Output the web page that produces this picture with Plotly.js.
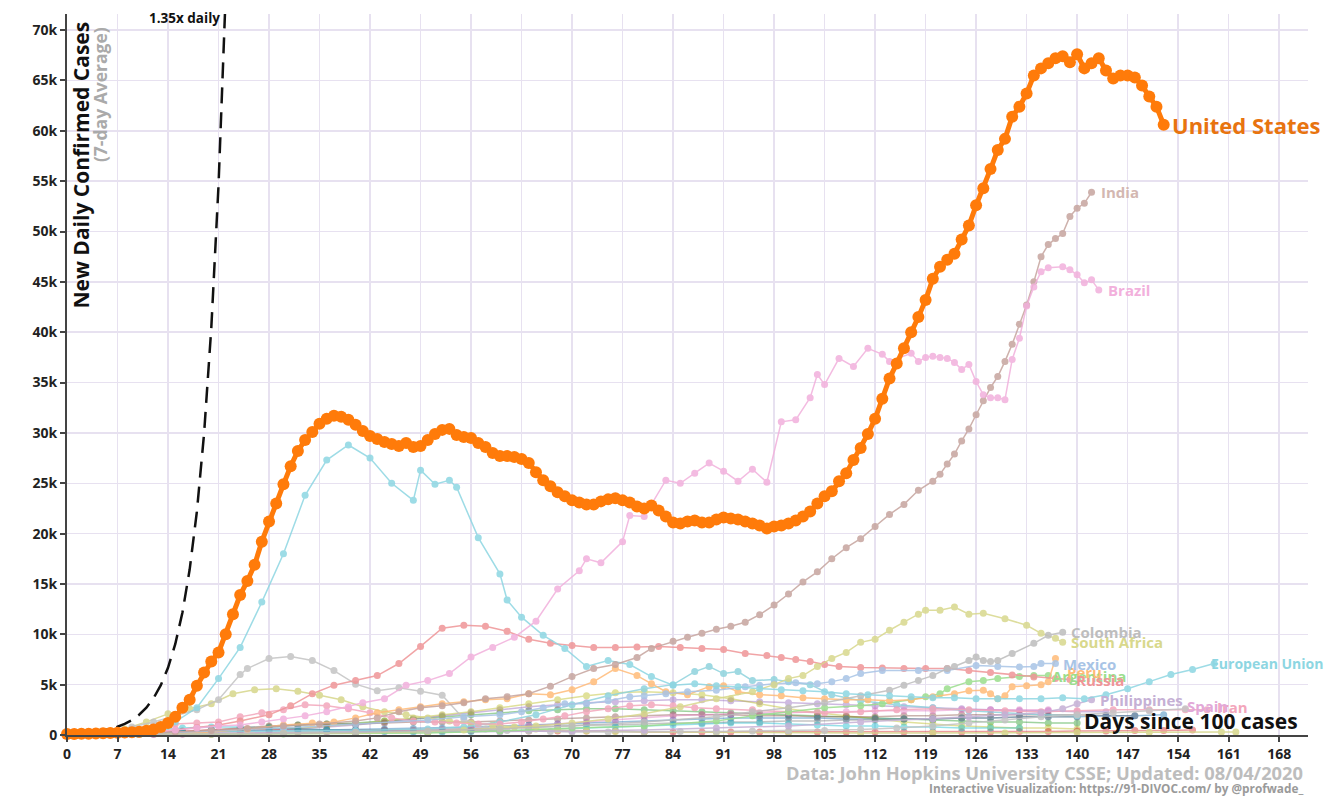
<!DOCTYPE html>
<html><head><meta charset="utf-8">
<script src="https://cdn.plot.ly/plotly-3.0.1.min.js"></script>
<style>html,body{margin:0;padding:0;background:#fff;} #chart{width:1330px;height:796px;}</style>
</head><body><div id="chart"></div>
<script>
// values in thousands of new daily cases (7-day average), x = days since 100 cases
const usValues = [
0.1,0.1,0.12,0.13,0.15,0.17,0.2,0.22,0.25,0.28,
0.33,0.42,0.55,0.8,1.2,1.8,2.7,3.5,4.9,6.2,
7.3,8.2,10.0,12.0,13.9,15.3,16.9,19.2,21.2,23.0,
24.9,26.7,28.2,29.3,30.1,30.9,31.4,31.7,31.6,31.3,
30.8,30.2,29.7,29.4,29.1,28.9,28.7,29.0,28.6,28.7,
29.3,29.9,30.3,30.4,29.8,29.6,29.5,29.0,28.6,28.0,
27.7,27.7,27.6,27.4,27.0,26.1,25.3,24.7,24.1,23.7,
23.3,23.1,22.9,22.9,23.2,23.4,23.5,23.3,23.1,22.7,
22.5,22.8,22.3,21.7,21.1,21.0,21.2,21.3,21.1,21.1,
21.4,21.6,21.5,21.4,21.2,21.0,20.8,20.5,20.7,20.8,
21.0,21.3,21.7,22.2,23.0,23.7,24.2,25.2,26.0,27.3,
28.5,29.9,31.4,33.4,35.4,36.9,38.4,40.0,41.5,43.2,
45.3,46.5,47.2,47.8,49.2,50.6,52.6,54.3,56.2,58.1,
59.2,61.4,62.4,63.7,65.5,66.2,66.7,67.2,67.4,66.8,
67.6,66.2,66.7,67.2,66.0,65.2,65.5,65.5,65.3,64.5,
63.4,62.4,60.6];

const euDays = [0,3,6,9,12,15,18,21,24,27,30,33,36,39,42,45,48,49,51,53,54,57,60,61,63,66,69,72,75,78,81,84,87,90,93,96,99,102,105,108,111,114,117,120,123,126,129,132,135,138,141,144,147,150,153,156,159];
const euValues = [0.02,0.05,0.15,0.3,0.6,1.3,2.7,5.6,8.7,13.2,18.0,23.8,27.3,28.8,27.5,25.0,23.3,26.3,24.9,25.3,24.6,19.6,16.0,13.4,11.7,9.9,8.6,6.8,7.4,7.0,5.8,4.95,5.1,4.9,4.8,4.6,4.5,4.4,4.3,4.1,4.0,3.9,3.8,3.7,3.7,3.6,3.6,3.6,3.6,3.7,3.6,4.0,4.6,5.3,6.0,6.5,7.1];

const brazilDays = [0,3,6,9,12,15,18,21,24,27,30,33,36,39,41,44,47,50,53,56,59,62,65,68,71,72,74,77,78,80,83,85,87,89,91,93,95,97,99,101,103,104,105,107,109,111,113,114,117,118,119,120,121,122,123,124,125,126,127,128,129,130,131,132,133,134,135,136,138,139,140,141,142,143];
const brazilValues = [0.02,0.05,0.1,0.2,0.3,0.5,0.7,0.9,1.0,1.3,1.6,1.9,2.3,2.8,3.2,3.6,4.95,5.4,6.1,7.75,8.7,9.7,11.3,14.5,16.3,17.5,17.1,19.2,21.8,21.7,25.3,25.0,26.0,27.0,26.2,25.2,26.4,25.1,31.1,31.3,33.5,35.8,34.8,37.4,36.6,38.4,37.8,37.1,37.9,37.1,37.5,37.6,37.5,37.4,37.0,36.3,36.8,35.1,33.8,33.5,33.5,33.3,37.3,39.4,42.6,44.5,46.0,46.4,46.5,46.2,45.7,44.9,45.2,44.2];

const indiaDays = [0,5,10,15,20,25,30,35,40,43,46,49,52,55,58,61,64,67,70,73,76,79,81,84,86,88,90,92,94,96,98,100,102,104,106,108,110,112,114,116,118,120,121,122,123,124,125,126,127,128,129,130,131,132,133,134,135,136,137,138,139,140,141,142];
const indiaValues = [0.01,0.05,0.1,0.3,0.45,0.65,0.9,1.1,1.4,1.7,2.3,2.7,2.9,3.2,3.6,3.8,4.1,4.85,5.8,6.6,7.0,7.7,8.6,9.3,9.7,10.1,10.5,10.8,11.2,11.95,12.9,14.0,15.2,16.2,17.5,18.6,19.5,20.7,21.9,22.9,24.3,25.2,25.9,26.9,27.9,29.2,30.4,31.8,33.2,34.5,35.6,37.1,38.8,40.8,42.7,45.0,47.5,48.7,49.3,49.8,51.5,52.3,52.8,53.9];

const russiaDays = [0,3,6,9,12,15,18,21,24,28,31,34,37,40,43,46,49,52,55,58,61,64,67,70,73,76,79,82,85,88,91,94,97,99,101,103,105,107,110,113,116,119,122,125,128,131,134,137,139];
const russiaValues = [0.03,0.05,0.1,0.2,0.3,0.5,0.75,1.0,1.4,2.0,2.9,4.1,4.95,5.4,5.9,7.1,8.8,10.6,10.9,10.8,10.3,9.5,9.1,8.9,8.7,8.7,8.75,8.8,8.7,8.6,8.5,8.1,7.9,7.7,7.5,7.3,7.0,6.8,6.7,6.65,6.6,6.6,6.6,6.4,6.2,5.95,5.75,5.6,5.5];

const spainDays = [0,3,6,9,12,15,18,21,24,25,28,31,34,37,40,43,46,49,52,55,58,61,64,67,70,75,80,85,90,95,100,105,110,115,120,125,130,135,140,145,150,155];
const spainValues = [0.05,0.15,0.4,0.8,1.3,1.9,2.5,3.5,6.0,6.6,7.6,7.8,7.4,6.4,5.05,4.4,4.7,4.35,3.95,1.6,0.6,0.45,0.4,0.35,0.3,0.3,0.35,0.35,0.35,0.4,0.4,0.45,0.55,0.7,0.9,1.2,1.5,1.8,2.0,2.2,2.4,2.6];

const italyDays = [0,3,6,8,11,14,17,20,23,26,29,32,35,38,41,44,47,50,53,56,59,62,65,68,72,76,80,90,100,110,120,130,140,150,160,162];
const italyValues = [0.03,0.15,0.35,0.6,1.3,2.1,2.6,3.1,4.1,4.5,4.6,4.35,3.95,3.5,2.8,2.3,2.0,1.7,1.4,1.2,1.0,0.8,0.6,0.5,0.4,0.35,0.3,0.25,0.25,0.2,0.2,0.2,0.25,0.27,0.3,0.3];

const southAfricaDays = [0,10,20,30,40,50,55,60,65,70,75,80,85,90,95,98,100,102,104,106,108,110,112,114,116,118,119,121,123,125,127,130,133,135,137,138];
const southAfricaValues = [0.02,0.06,0.08,0.15,0.2,0.35,0.5,0.7,0.9,1.2,1.6,2.1,2.8,3.6,4.3,5.0,5.6,5.9,6.8,7.6,8.2,9.2,9.5,10.4,11.2,12.0,12.4,12.4,12.7,12.0,12.1,11.55,10.9,10.1,9.6,9.2];

const colombiaDays = [0,10,20,30,40,50,60,70,80,90,95,100,105,110,114,116,118,120,122,123,125,126,127,128,129,131,134,136,138];
const colombiaValues = [0.02,0.05,0.1,0.15,0.25,0.4,0.6,0.9,1.3,1.8,2.3,2.7,3.2,3.9,4.45,4.95,5.4,5.9,6.6,6.8,7.4,7.75,7.4,7.3,7.4,8.1,9.1,9.9,10.2];

const mexicoDays = [0,10,20,30,40,50,55,60,63,66,69,72,75,78,80,83,86,90,94,96,98,101,104,106,108,110,113,118,122,126,129,132,134,135,137];
const mexicoValues = [0.02,0.1,0.4,0.7,1.1,1.5,1.8,2.0,2.3,2.7,3.1,3.1,3.4,3.8,3.9,4.1,4.3,4.45,4.8,4.95,5.1,5.2,5.1,5.3,5.6,6.1,6.4,6.4,6.4,6.9,6.8,6.75,6.8,7.1,7.1];

const peruDays = [0,5,10,15,20,25,30,34,37,40,43,46,49,52,55,58,61,64,67,70,73,76,79,81,83,86,89,91,93,96,99,102,105,108,111,114,117,120,123,125,127,128,129,130,131,133,135,136,137];
const peruValues = [0.02,0.05,0.08,0.15,0.3,0.6,1.0,1.2,1.3,1.7,2.2,2.5,2.8,3.1,3.3,3.5,3.6,4.1,4.0,4.5,5.3,6.6,5.9,5.1,4.3,4.0,4.8,4.9,4.3,4.0,3.9,3.7,3.6,3.5,3.5,3.4,3.5,3.8,4.1,4.4,4.45,4.1,3.6,3.9,4.8,4.9,5.0,5.3,7.6];

const argentinaDays = [0,10,20,30,40,50,60,70,80,90,95,100,105,110,113,117,119,121,122,125,127,129,132,134,136];
const argentinaValues = [0.01,0.05,0.08,0.1,0.15,0.2,0.4,0.7,0.9,1.4,1.9,2.3,2.7,2.9,3.1,3.5,3.8,4.1,4.6,5.3,5.4,5.6,5.8,5.9,5.9];

const philippinesDays = [0,10,20,30,40,50,60,70,80,90,100,110,120,125,130,135,138,140,142];
const philippinesValues = [0.02,0.1,0.2,0.2,0.25,0.25,0.3,0.4,0.5,0.7,0.9,1.3,1.6,1.8,2.0,2.2,2.6,3.1,3.5];

const iranDays = [0,3,6,9,12,15,18,21,24,27,30,33,36,39,42,45,48,51,54,57,60,63,66,69,72,75,78,81,84,87,90,95,100,105,110,115,120,125,130,135,140,145,150,155,158];
const iranValues = [0.03,0.1,0.3,0.6,0.9,1.1,1.2,1.3,1.8,2.2,2.5,3.0,2.9,2.6,2.2,1.7,1.4,1.3,1.2,1.1,1.1,1.3,1.6,1.9,2.3,2.6,2.9,3.0,2.9,2.7,2.6,2.5,2.3,2.2,2.3,2.5,2.6,2.5,2.4,2.3,2.4,2.5,2.5,2.5,2.5];

const chileDays = [0,10,20,30,40,50,55,60,65,70,75,80,84,87,89,91,93,95,98,100,103,106,110,115,120,125,130,135,140];
const chileValues = [0.03,0.2,0.35,0.4,0.45,0.6,0.8,1.3,2.0,3.0,3.9,4.6,5.0,6.3,6.8,6.1,6.3,5.4,5.5,5.3,5.0,4.0,3.4,3.0,2.7,2.4,2.2,2.0,1.9];

// background countries, one value every 4 days starting at day 0
const bgGreenValues = [0.02,0.05,0.1,0.15,0.25,0.4,0.6,0.8,1.0,1.1,1.2,1.4,1.6,1.8,2.0,2.2,2.4,2.5,2.6,2.6,2.5,2.4,2.3,2.2,2.1,2.0,1.9,1.8,1.7,1.6,1.5,1.4,1.3,1.3,1.2,1.2];
const bgPurpleValues = [0.01,0.02,0.05,0.1,0.2,0.3,0.4,0.5,0.6,0.8,1.0,1.3,1.6,1.9,2.2,2.5,2.8,3.0,3.2,3.3,3.4,3.5,3.5,3.4,3.3,3.2,3.1,3.0,2.9,2.8,2.7,2.6,2.5,2.4,2.4,2.3,2.3];
const bgOliveValues = [0.02,0.05,0.1,0.2,0.3,0.4,0.5,0.6,0.7,0.9,1.1,1.4,1.7,2.0,2.3,2.7,3.1,3.5,3.9,4.2,4.3,4.2,4.0,3.6,3.1,2.6,2.2,1.9,1.6,1.3,1.1,0.9,0.8,0.7,0.7,0.6];
const bgRedValues = [0.05,0.1,0.2,0.3,0.4,0.5,0.6,0.6,0.6,0.5,0.5,0.5,0.4,0.4,0.4,0.4,0.4,0.4,0.4,0.4,0.3,0.3,0.3,0.3,0.3,0.3,0.3,0.3,0.3,0.3,0.3,0.3,0.3,0.35,0.35,0.4,0.4,0.45,0.45,0.5];
const bgBrownValues = [0.02,0.05,0.1,0.2,0.3,0.5,0.7,0.9,1.0,1.1,1.1,1.2,1.3,1.3,1.3,1.4,1.5,1.6,1.7,1.8,1.9,2.0,2.0,2.0,1.9,1.9,1.8,1.8,1.8,1.9,1.9,2.0,2.0,2.0,2.0,2.0,1.9,1.9];
const bgBlueValues = [0.02,0.05,0.1,0.2,0.3,0.35,0.4,0.4,0.45,0.5,0.55,0.6,0.65,0.7,0.8,0.9,1.0,1.1,1.2,1.3,1.4,1.5,1.6,1.7,1.7,1.7,1.7,1.6,1.6,1.6,1.6,1.7,1.7,1.8,1.8,1.8,1.9,1.9,2.0];
const bgGreyValues = [0.01,0.02,0.05,0.08,0.1,0.15,0.2,0.25,0.3,0.35,0.4,0.45,0.5,0.55,0.6,0.7,0.8,0.9,1.0,1.0,1.1,1.2,1.2,1.3,1.3,1.4,1.4,1.5,1.5,1.6,1.6,1.7,1.7,1.8,1.8,1.8];
const bgPinkValues = [0.01,0.02,0.03,0.05,0.08,0.1,0.12,0.15,0.2,0.25,0.3,0.35,0.4,0.5,0.6,0.7,0.9,1.1,1.3,1.5,1.7,1.9,2.0,2.1,2.2,2.2,2.3,2.3,2.4,2.4,2.4,2.5,2.5,2.5,2.5];
const bgTealValues = [0.02,0.1,0.3,0.5,0.7,0.8,0.8,0.7,0.6,0.5,0.4,0.35,0.3,0.3,0.35,0.4,0.5,0.6,0.7,0.8,0.9,1.0,1.1,1.2,1.2,1.1,1.0,0.9,0.9,0.8,0.8,0.7,0.7,0.7];

// 1.35x daily guide line
const guideValues = [0.1,0.135,0.182,0.246,0.332,0.448,0.605,0.817,1.103,1.489,2.011,2.714,3.664,4.947,6.678,9.016,12.171,16.431,22.182,29.946,40.427,54.576,73.678];

const xTickVals = [0,7,14,21,28,35,42,49,56,63,70,77,84,91,98,105,112,119,126,133,140,147,154,161,168];
const yTickVals = [0,5,10,15,20,25,30,35,40,45,50,55,60,65,70];
const yTickText = ['0','5k','10k','15k','20k','25k','30k','35k','40k','45k','50k','55k','60k','65k','70k'];

const FONT = 'Open Sans, Lato, sans-serif';

function indexDays(n, step){ const d=[]; for(let i=0;i<n;i++) d.push(i*step); return d; }

const traces = [];
const annotations = [];

function addSeries(days, vals, color, opt){
  opt = opt || {};
  traces.push({
    type:'scatter', mode:'lines+markers', x:days, y:vals,
    line:{color:color, width:opt.lw||1.5, shape:'linear'},
    marker:{color:color, size:opt.ms||7},
    opacity: opt.op==null?0.85:opt.op,
    cliponaxis:false, hoverinfo:'skip', showlegend:false
  });
  if(opt.label){
    annotations.push({
      x: days[days.length-1], y: vals[vals.length-1], xref:'x', yref:'y',
      text: opt.label, showarrow:false, xanchor:'left', yanchor:'middle',
      xshift: opt.xs==null?5:opt.xs, yshift: opt.ys||0,
      font:{family:FONT, size:opt.fs||15, color:opt.lc||color, weight:700}
    });
  }
}

const step4 = 4;
addSeries(indexDays(bgGreenValues.length, step4), bgGreenValues, '#2ca02c', {op:0.45});
addSeries(indexDays(bgPurpleValues.length, step4), bgPurpleValues, '#9467bd', {op:0.45});
addSeries(indexDays(bgOliveValues.length, step4), bgOliveValues, '#bcbd22', {op:0.45});
addSeries(indexDays(bgRedValues.length, step4), bgRedValues, '#d62728', {op:0.45});
addSeries(indexDays(bgBrownValues.length, step4), bgBrownValues, '#8c564b', {op:0.45});
addSeries(indexDays(bgBlueValues.length, step4), bgBlueValues, '#1f77b4', {op:0.45});
addSeries(indexDays(bgGreyValues.length, step4), bgGreyValues, '#7f7f7f', {op:0.45});
addSeries(indexDays(bgPinkValues.length, step4), bgPinkValues, '#e377c2', {op:0.45});
addSeries(indexDays(bgTealValues.length, step4), bgTealValues, '#17becf', {op:0.45});

addSeries(italyDays, italyValues, '#d6d68a');
addSeries(chileDays, chileValues, '#8fd3dd');
addSeries(iranDays, iranValues, '#f3a6bb', {label:'Iran', xs:8, ys:3});
addSeries(spainDays, spainValues, '#c4c4c4', {label:'Spain', xs:0, ys:3, lc:'#e2a8d8'});
addSeries(philippinesDays, philippinesValues, '#c5b0d5', {label:'Philippines', xs:6});
addSeries(argentinaDays, argentinaValues, '#9bde8d', {label:'Argentina', xs:2});
addSeries(peruDays, peruValues, '#ffbb78', {label:'Peru', xs:10, ys:-14});
addSeries(russiaDays, russiaValues, '#ef9597', {label:'Russia', xs:4});
addSeries(mexicoDays, mexicoValues, '#a8c4e6', {label:'Mexico', xs:6});
addSeries(southAfricaDays, southAfricaValues, '#d8d88c', {label:'South Africa', xs:6});
addSeries(colombiaDays, colombiaValues, '#bdbdbd', {label:'Colombia', xs:6});
addSeries(euDays, euValues, '#8dd6e2', {label:'European Union', xs:-5, fs:14});
addSeries(indiaDays, indiaValues, '#c6a49e', {label:'India', xs:7, lc:'#d3b7b1'});
addSeries(brazilDays, brazilValues, '#f2b0dc', {label:'Brazil', xs:7});

traces.push({
  type:'scatter', mode:'lines', x:indexDays(guideValues.length,1), y:guideValues,
  line:{color:'#111', width:2.5, dash:'16px,9px'}, hoverinfo:'skip', showlegend:false
});

addSeries(indexDays(usValues.length,1), usValues, '#ff7b0a', {lw:5, ms:12, op:1, label:'United States', fs:22, xs:6, lc:'#e8740f'});

annotations.push(
  {xref:'paper', yref:'paper', x:0.0115, y:0.992, xanchor:'center', yanchor:'top', textangle:-90, showarrow:false,
   text:'New Daily Confirmed Cases', font:{family:FONT, size:21, color:'#111', weight:700}},
  {xref:'paper', yref:'paper', x:0.0272, y:0.985, xanchor:'center', yanchor:'top', textangle:-90, showarrow:false,
   text:'(7-day Average)', font:{family:FONT, size:17.5, color:'#aaaaaa', weight:700}},
  {xref:'paper', yref:'paper', x:0.125, y:0.9945, xanchor:'right', yanchor:'middle', showarrow:false,
   text:'1.35x daily', font:{family:FONT, size:13.5, color:'#111', weight:700}},
  {xref:'paper', yref:'paper', x:0.9936, y:0.0194, xanchor:'right', yanchor:'middle', showarrow:false,
   text:'Days since 100 cases', font:{family:FONT, size:21, color:'#111', weight:700}},
  {xref:'paper', yref:'paper', x:0.9976, y:-0.0527, xanchor:'right', yanchor:'middle', showarrow:false,
   text:'Data: John Hopkins University CSSE; Updated: 08/04/2020', font:{family:FONT, size:18.3, color:'#bdbdbd', weight:700}},
  {xref:'paper', yref:'paper', x:0.9976, y:-0.0735, xanchor:'right', yanchor:'middle', showarrow:false,
   text:'Interactive Visualization: https://91-DIVOC.com/ by @profwade_', font:{family:FONT, size:11.8, color:'#9a9a9a', weight:700}}
);

const layout = {
  width:1330, height:796,
  margin:{l:67, r:22, t:14, b:61},
  paper_bgcolor:'#ffffff', plot_bgcolor:'#ffffff',
  showlegend:false,
  xaxis:{range:[0,172], tickvals:xTickVals, ticks:'outside', ticklen:5, tickwidth:2, tickcolor:'#444',
    showline:true, linecolor:'#444', linewidth:2, gridcolor:'#e7e1f0', gridwidth:1.5, zeroline:false,
    tickfont:{family:FONT, size:14, color:'#222', weight:700}, fixedrange:true},
  yaxis:{range:[0,71.6], tickvals:yTickVals, ticktext:yTickText, ticks:'outside', ticklen:5, tickwidth:2, tickcolor:'#444',
    showline:true, linecolor:'#444', linewidth:2, gridcolor:'#e7e1f0', gridwidth:1.5, zeroline:false,
    tickfont:{family:FONT, size:14, color:'#222', weight:700}, fixedrange:true},
  annotations:annotations
};

Plotly.newPlot('chart', traces, layout, {displayModeBar:false, staticPlot:true});
</script></body></html>
